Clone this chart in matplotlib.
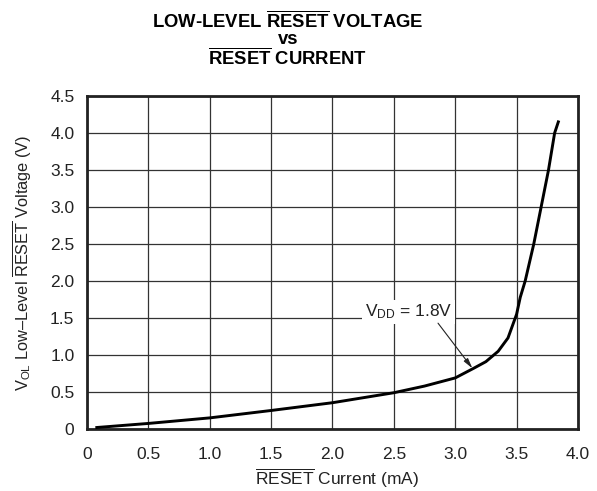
import numpy as np
import matplotlib.pyplot as plt

plt.rcParams['font.family'] = ['Liberation Sans', 'DejaVu Sans']
plt.rcParams['mathtext.fontset'] = 'custom'
plt.rcParams['mathtext.rm'] = 'Liberation Sans'
plt.rcParams['mathtext.it'] = 'Liberation Sans:italic'
plt.rcParams['mathtext.bf'] = 'Liberation Sans:bold'

# courbe
courant_ma = [0.08, 0.5, 1.0, 1.5, 2.0, 2.5, 2.75, 3.0, 3.15, 3.25, 3.35,
              3.43, 3.5, 3.53, 3.57, 3.64, 3.70, 3.76, 3.81, 3.84]
tension_v = [0.02, 0.075, 0.15, 0.25, 0.355, 0.49, 0.58, 0.69, 0.82, 0.91, 1.05,
             1.23, 1.55, 1.78, 2.0, 2.5, 3.0, 3.5, 4.0, 4.15]

x_ticks = [0, 0.5, 1.0, 1.5, 2.0, 2.5, 3.0, 3.5, 4.0]
x_labels = ['0', '0.5', '1.0', '1.5', '2.0', '2.5', '3.0', '3.5', '4.0']
y_ticks = [0, 0.5, 1.0, 1.5, 2.0, 2.5, 3.0, 3.5, 4.0, 4.5]
y_labels = ['0', '0.5', '1.0', '1.5', '2.0', '2.5', '3.0', '3.5', '4.0', '4.5']

fig = plt.figure(figsize=(5.97, 4.91), dpi=100)
ax = fig.add_axes([0.1457, 0.1263, 0.8224, 0.6782])

ax.plot(courant_ma, tension_v, color='black', lw=2.1, zorder=3)

ax.set_xlim(0, 4.0)
ax.set_ylim(0, 4.5)
ax.set_xticks(x_ticks, x_labels)
ax.set_yticks(y_ticks, y_labels)
ax.tick_params(length=0, labelsize=12.5, colors='#222222')
ax.tick_params(axis='x', pad=13)
ax.tick_params(axis='y', pad=9)
ax.grid(True, color='#333333', lw=0.9)
for s in ax.spines.values():
    s.set_linewidth(2.0)
    s.set_color('#222222')

ax.set_xlabel(r'$\mathregular{\overline{RESET}}$ Current (mA)', fontsize=12.5,
              color='#222222', va='top')
ax.xaxis.set_label_coords(0.51, -0.114)
ax.set_ylabel(r'$\mathregular{V_{OL}}$ Low–Level $\mathregular{\overline{RESET}}$ Voltage (V)',
              fontsize=11.8, color='#222222', va='bottom')
ax.yaxis.set_label_coords(-0.108, 0.5)

# étiquette et flèche
ax.text(2.62, 1.58, r'$\mathregular{V_{DD}}$ = 1.8V', fontsize=12.5, color='#222222',
        ha='center', va='center', zorder=4,
        bbox=dict(facecolor='white', edgecolor='none', pad=2))
ax.annotate('', xy=(3.14, 0.82), xytext=(2.86, 1.43),
            arrowprops=dict(arrowstyle='-|>,head_length=0.6,head_width=0.15',
                            color='#222222', lw=0.8, shrinkA=0, shrinkB=0), zorder=4)

# titre
tx = 288 / 597
fig.text(tx, 0.957, r'LOW-LEVEL $\mathbf{\overline{RESET}}$ VOLTAGE', fontsize=13.3,
         fontweight='bold', ha='center', va='center')
fig.text(tx, 0.919, 'vs', fontsize=13.3, fontweight='bold', ha='center', va='center')
fig.text(tx, 0.881, r'$\mathbf{\overline{RESET}}$ CURRENT', fontsize=13.3,
         fontweight='bold', ha='center', va='center')

plt.savefig('out.png', dpi=100)
